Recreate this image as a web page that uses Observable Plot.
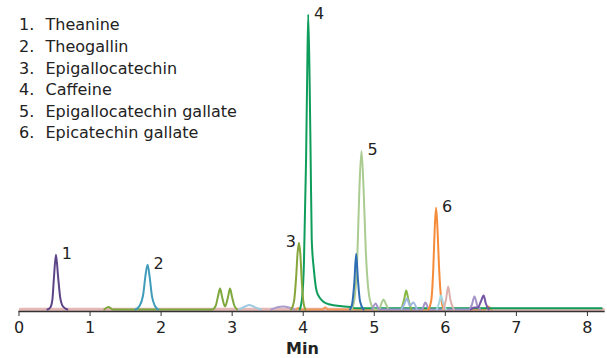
<!DOCTYPE html>
<html>
<head>
<meta charset="utf-8">
<script src="https://cdn.jsdelivr.net/npm/d3@7"></script>
<script src="https://cdn.jsdelivr.net/npm/@observablehq/plot@0.6"></script>
<style>
  html, body { margin: 0; padding: 0; background: #fff; }
  #chart { width: 607px; height: 358px; }
</style>
</head>
<body>
<div id="chart"></div>
<script>
// Compound legend
const compoundNumbers = ["1.", "2.", "3.", "4.", "5.", "6."];
const compoundNames = ["Theanine", "Theogallin", "Epigallocatechin", "Caffeine", "Epigallocatechin gallate", "Epicatechin gallate"];

// Peak labels (retention time in min, peak height)
const peakLabels = ["1", "2", "3", "4", "5", "6"];
const peakTimes = [0.52, 1.81, 3.94, 4.07, 4.82, 5.87];
const peakHeights = [55, 45, 67, 296, 159, 102];

const xTicks = [0, 1, 2, 3, 4, 5, 6, 7, 8];

// Traces: [time (min), signal]
const baselineTrace = [[0.02, 0], [8.22, 0]];
const theanine = [[0.40, 0], [0.44, 2], [0.47, 10], [0.49, 30], [0.52, 55], [0.55, 33], [0.58, 12], [0.62, 3], [0.68, 0]];
const theogallin = [[1.64, 0], [1.70, 4], [1.75, 16], [1.78, 34], [1.81, 45], [1.84, 32], [1.87, 14], [1.91, 4], [1.96, 0]];
const olivePair = [[1.20, 0], [1.26, 2.5], [1.32, 0], [2.72, 0], [2.77, 4], [2.80, 13], [2.83, 21], [2.86, 12], [2.90, 3], [2.94, 12], [2.97, 21], [3.00, 12], [3.03, 4], [3.07, 0]];
const lightBlueBump = [[3.10, 0], [3.18, 3], [3.24, 4.5], [3.30, 3], [3.40, 0]];
const lilacBump = [[3.55, 0], [3.65, 2.5], [3.72, 3], [3.80, 2], [3.88, 0]];
const epigallocatechin = [[3.83, 0], [3.87, 8], [3.90, 32], [3.92, 56], [3.94, 67], [3.96, 55], [3.98, 28], [4.00, 9], [4.03, 0]];
const caffeine = [[3.95, 0], [3.985, 12], [4.01, 46], [4.04, 150], [4.055, 230], [4.07, 296], [4.09, 230], [4.105, 150], [4.12, 70], [4.15, 40], [4.19, 18], [4.24, 11], [4.30, 7], [4.38, 5], [4.52, 3.5], [4.66, 2.5], [4.74, 1.2], [8.2, 1.2]];
const bluePeak = [[4.66, 0], [4.69, 6], [4.72, 28], [4.745, 56], [4.77, 30], [4.80, 8], [4.85, 0]];
const egcg = [[4.68, 0], [4.72, 10], [4.76, 50], [4.79, 120], [4.82, 159], [4.85, 120], [4.88, 60], [4.92, 18], [4.97, 3], [5.02, 0], [5.07, 0], [5.10, 6], [5.13, 10], [5.16, 6], [5.20, 0]];
const lilacSmall = [[4.97, 0], [5.02, 6], [5.07, 0], [5.67, 0], [5.72, 7], [5.77, 0], [6.33, 0], [6.37, 4], [6.41, 13], [6.45, 4], [6.49, 0]];
const greenSmall = [[5.38, 0], [5.42, 10], [5.45, 19], [5.48, 10], [5.52, 0]];
const periwinkle = [[5.38, 0], [5.42, 5], [5.46, 11], [5.50, 4], [5.55, 7], [5.60, 0]];
const ecg = [[5.76, 0], [5.80, 8], [5.83, 40], [5.85, 80], [5.87, 102], [5.89, 80], [5.91, 45], [5.94, 12], [5.98, 0]];
const cyanSmall = [[5.88, 0], [5.91, 6], [5.94, 14], [5.97, 6], [6.01, 0]];
const pinkSmall = [[5.97, 0], [6.01, 10], [6.04, 23], [6.07, 10], [6.12, 0]];
const purpleSmall = [[6.36, 0], [6.41, 2], [6.46, 2], [6.50, 8], [6.54, 14], [6.57, 6], [6.61, 0]];
const orangeBlips = [[3.90, 0], [3.93, 1.5], [3.96, 0], [4.27, 0], [4.31, 2], [4.35, 0], [6.55, 0], [6.60, 3], [6.65, 0]];

const traces = [
  {data: baselineTrace, color: "#e4b8b6", width: 3.5},
  {data: lightBlueBump, color: "#9ccbe2", width: 2},
  {data: lilacBump, color: "#aa9ccc", width: 2},
  {data: orangeBlips, color: "#f39a5a", width: 2},
  {data: olivePair, color: "#7ea83c", width: 2},
  {data: theanine, color: "#5c4487", width: 2},
  {data: theogallin, color: "#3f9cba", width: 2},
  {data: caffeine, color: "#0f9d5c", width: 2},
  {data: egcg, color: "#abcc90", width: 2},
  {data: epigallocatechin, color: "#86a63c", width: 2},
  {data: bluePeak, color: "#2f6db2", width: 2},
  {data: lilacSmall, color: "#a393c9", width: 2},
  {data: greenSmall, color: "#86b846", width: 2},
  {data: periwinkle, color: "#9db6e0", width: 2},
  {data: ecg, color: "#f68b3a", width: 2},
  {data: cyanSmall, color: "#a6d6e2", width: 2},
  {data: pinkSmall, color: "#dcb1ad", width: 2},
  {data: purpleSmall, color: "#7556a4", width: 2}
];

const yMin = -2;
const labelRows = peakLabels.map((l, i) => ({label: l, t: peakTimes[i], h: peakHeights[i]}));

const chart = Plot.plot({
  width: 607,
  height: 358,
  marginLeft: 18.5,
  marginRight: 2.3,
  marginTop: 14,
  marginBottom: 47,
  style: {fontFamily: "DejaVu Sans, Verdana, sans-serif", fontSize: "16px", color: "#222", background: "#fff"},
  x: {domain: [0, 8.25]},
  y: {domain: [yMin, 296], axis: null},
  marks: [
    ...traces.map(tr => Plot.line(tr.data, {x: d => d[0], y: d => d[1], stroke: tr.color, strokeWidth: tr.width, curve: "monotone-x"})),
    Plot.ruleY([yMin], {stroke: "#333", strokeWidth: 1.3}),
    Plot.axisX({ticks: xTicks, tickSize: 5, tickPadding: 5, tickFormat: d => String(d), fontSize: 16, stroke: "#333", label: null}),
    Plot.text(["Min"], {frameAnchor: "bottom", lineAnchor: "top", dx: -9.6, dy: 31.5, fontWeight: "bold", fontSize: 16, fill: "#222"}),
    Plot.text(labelRows.filter(d => d.label !== "3"), {x: "t", y: "h", text: "label", dx: 11, dy: -1, fontSize: 16, fill: "#222"}),
    Plot.text(labelRows.filter(d => d.label === "3"), {x: "t", y: "h", text: "label", dx: -8, dy: -1, fontSize: 16, fill: "#222"}),
    Plot.text([compoundNumbers.join("\n")], {frameAnchor: "top-left", lineAnchor: "top", textAnchor: "start", dx: 0, dy: 0.5, lineHeight: 1.35, fontSize: 16, fill: "#222"}),
    Plot.text([compoundNames.join("\n")], {frameAnchor: "top-left", lineAnchor: "top", textAnchor: "start", dx: 26.5, dy: 0.5, lineHeight: 1.35, fontSize: 16, fill: "#222"})
  ]
});
document.getElementById("chart").appendChild(chart);
</script>
</body>
</html>
